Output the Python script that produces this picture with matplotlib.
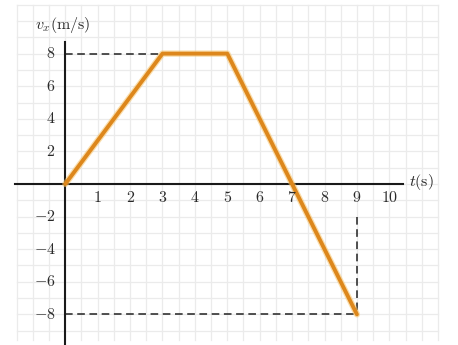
import numpy as np
import matplotlib.pyplot as plt

plt.rcParams['mathtext.fontset'] = 'cm'

# velocity vs time, piecewise linear
t_pts = [0, 3, 5, 9]
v_pts = [0, 8, 8, -8]

x_ticks = [1, 2, 3, 4, 5, 6, 7, 8, 9, 10]
y_ticks = [8, 6, 4, 2, -2, -4, -6, -8]

fig = plt.figure(figsize=(4.58, 3.45), dpi=100)
ax = fig.add_axes([0, 0, 1, 1])
ax.set_xlim(-2.015, 12.12)
ax.set_ylim(-9.88, 11.29)
ax.axis('off')

# graph paper background
grid_col = '#ebebeb'
for gx in np.arange(-1.5, 11.51, 0.5):
    ax.plot([gx, gx], [-9.6, 11.0], color=grid_col, lw=0.9, zorder=0)
for gy in np.arange(-9, 11.01, 1):
    ax.plot([-1.5, 11.5], [gy, gy], color=grid_col, lw=0.9, zorder=0)

# axes
ax.plot([-1.55, 10.43], [0, 0], color='#1a1a1a', lw=1.5, zorder=3)
ax.plot([0, 0], [8.7, -10.5], color='#1a1a1a', lw=1.5, zorder=3)

# dashed guides
dash = dict(color='#222222', lw=1.1, ls=(0, (5, 3)), zorder=2)
ax.plot([0, t_pts[1]], [v_pts[1], v_pts[1]], **dash)
ax.plot([0, t_pts[3]], [v_pts[3], v_pts[3]], **dash)
ax.plot([t_pts[3], t_pts[3]], [-2.0, v_pts[3]], **dash)

# the curve, with a soft light halo
ax.plot(t_pts, v_pts, color='#f6c46a', lw=4.6, alpha=0.55,
        solid_joinstyle='round', solid_capstyle='round', zorder=4)
ax.plot(t_pts, v_pts, color='#dd871c', lw=2.8,
        solid_joinstyle='round', solid_capstyle='round', zorder=5)

# tick labels
for xt in x_ticks:
    ax.text(xt, -0.85, f'${xt}$', ha='center', va='center',
            fontsize=11.5, color='#2a2a2a', zorder=6)
for yt in y_ticks:
    lab = f'${yt}$' if yt > 0 else f'$-{abs(yt)}$'
    ax.text(-0.3, yt, lab, ha='right', va='center',
            fontsize=11.5, color='#2a2a2a', zorder=6)

# axis names
ax.text(-0.94, 9.75, r'$v_x\mathrm{(m/s)}$', ha='left', va='center',
        fontsize=11.5, color='#2a2a2a')
ax.text(10.6, 0.1, r'$t\mathrm{(s)}$', ha='left', va='center',
        fontsize=11.5, color='#2a2a2a')

fig.savefig('out.png', dpi=100)
